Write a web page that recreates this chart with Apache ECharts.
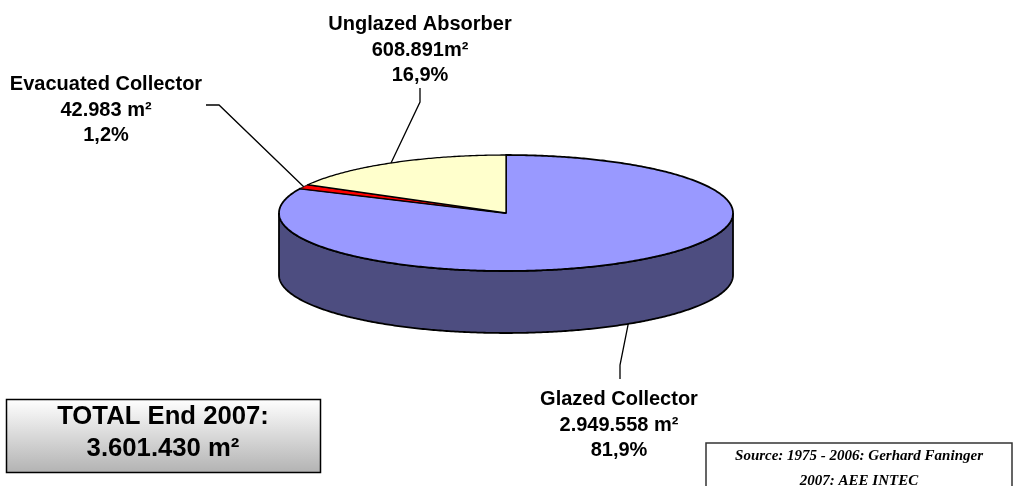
<!DOCTYPE html>
<html>
<head>
<meta charset="utf-8">
<style>
    html, body { margin: 0; padding: 0; background: #fff; }
    #pie3d { width: 1013px; height: 486px; }
</style>
<script src="https://cdn.jsdelivr.net/npm/echarts@6/dist/echarts.min.js"></script>
</head>
<body>
<div id="pie3d"></div>
<script>
    // data
    const categories = ['Glazed Collector', 'Evacuated Collector', 'Unglazed Absorber'];
    const areas = [2949558, 42983, 608891];
    const areaLabels = ['2.949.558 m²', '42.983 m²', '608.891m²'];
    const shareLabels = ['81,9%', '1,2%', '16,9%'];
    const topColors = ['#9999ff', '#ff0000', '#ffffcc'];
    const sideColors = ['#4d4d80', '#800000', '#808066'];
    const edgeWidths = [1.8, 1, 1.3];
    const totalLines = ['TOTAL End 2007:', '3.601.430 m²'];
    const sourceLines = ['Source: 1975 - 2006: Gerhard Faninger', '2007: AEE INTEC'];

    // pie geometry
    const cx = 506, cy = 213, rx = 227, ry = 58, depth = 62;
    const total = areas.reduce((a, b) => a + b, 0);
    const slices = [];
    let run = 0;
    areas.forEach(function (v) {
        slices.push([run / total * Math.PI * 2, (run + v) / total * Math.PI * 2]);
        run += v;
    });

    function rim(a, dy) {
        return [cx + rx * Math.sin(a), cy - ry * Math.cos(a) + (dy || 0)];
    }
    function arc(a0, a1, dy) {
        const pts = [];
        const n = Math.max(2, Math.ceil((a1 - a0) / 0.01));
        for (let i = 0; i <= n; i++) {
            pts.push(rim(a0 + (a1 - a0) * i / n, dy));
        }
        return pts;
    }

    // leader lines: label end, elbow, then the rim point at the middle of the slice
    const leaderStart = [[620, 379], [206, 105], [420, 88]];
    const leaderElbow = [[620, 365], [219, 105], [420, 102]];
    const labelPos = [[619, 387], [106, 72], [420, 12]];

    function renderSlice(params, api) {
        const i = api.value(0);
        const a0 = slices[i][0], a1 = slices[i][1];
        const mid = (a0 + a1) / 2;
        const children = [];

        // outer wall, only the part on the front half of the ellipse
        const w0 = Math.max(a0, Math.PI / 2), w1 = Math.min(a1, Math.PI * 1.5);
        if (w1 > w0) {
            children.push({
                type: 'polygon',
                shape: { points: arc(w0, w1, 0).concat(arc(w0, w1, depth).reverse()) },
                style: { fill: sideColors[i], stroke: '#000', lineWidth: 1.8 }
            });
        }
        // top face
        children.push({
            type: 'polygon',
            shape: { points: [[cx, cy]].concat(arc(a0, a1, 0)) },
            style: { fill: topColors[i], stroke: '#000', lineWidth: edgeWidths[i], lineJoin: 'round' }
        });
        // leader
        const front = mid > Math.PI / 2 && mid < Math.PI * 1.5;
        children.push({
            type: 'polyline',
            shape: { points: [leaderStart[i], leaderElbow[i], rim(mid, front ? depth : 0)] },
            style: { stroke: '#000', lineWidth: 1.3, fill: null }
        });
        // label
        children.push({
            type: 'text',
            x: labelPos[i][0],
            y: labelPos[i][1],
            style: {
                text: categories[i] + '\n' + areaLabels[i] + '\n' + shareLabels[i],
                font: 'bold 20px "Liberation Sans", Arial, sans-serif',
                lineHeight: 25.5,
                fill: '#000',
                align: 'center',
                verticalAlign: 'top'
            }
        });
        return { type: 'group', children: children };
    }

    const chart = echarts.init(document.getElementById('pie3d'), null, { renderer: 'canvas' });
    chart.setOption({
        animation: false,
        backgroundColor: '#fff',
        graphic: [
            {
                type: 'rect',
                shape: { x: 6.5, y: 399.5, width: 314, height: 73 },
                style: {
                    stroke: '#000', lineWidth: 1.5,
                    fill: new echarts.graphic.LinearGradient(0, 0, 0, 1, [
                        { offset: 0, color: '#ffffff' },
                        { offset: 1, color: '#b2b2b2' }
                    ])
                }
            },
            {
                type: 'text', x: 163, y: 401,
                style: {
                    text: totalLines.join('\n'),
                    font: 'bold 25.7px "Liberation Sans", Arial, sans-serif',
                    lineHeight: 32, fill: '#000', align: 'center', verticalAlign: 'top'
                }
            },
            {
                type: 'rect',
                shape: { x: 706, y: 443, width: 306, height: 60 },
                style: { stroke: '#333', lineWidth: 1.5, fill: '#fff' }
            },
            {
                type: 'text', x: 859, y: 444,
                style: {
                    text: sourceLines.join('\n'),
                    font: 'italic bold 15px "Liberation Serif", serif',
                    lineHeight: 25, fill: '#000', align: 'center', verticalAlign: 'top'
                }
            }
        ],
        series: [{
            type: 'custom',
            coordinateSystem: 'none',
            renderItem: renderSlice,
            silent: true,
            data: areas.map((v, i) => [i, v])
        }]
    });
</script>
</body>
</html>
